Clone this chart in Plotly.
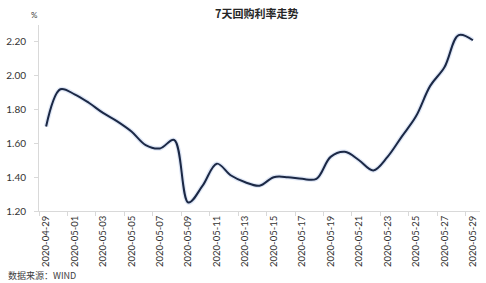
import plotly.graph_objects as go

dates = ["2020-04-29", "2020-04-30", "2020-05-01", "2020-05-02", "2020-05-03", "2020-05-04",
         "2020-05-05", "2020-05-06", "2020-05-07", "2020-05-08", "2020-05-09", "2020-05-10",
         "2020-05-11", "2020-05-12", "2020-05-13", "2020-05-14", "2020-05-15", "2020-05-16",
         "2020-05-17", "2020-05-18", "2020-05-19", "2020-05-20", "2020-05-21", "2020-05-22",
         "2020-05-23", "2020-05-24", "2020-05-25", "2020-05-26", "2020-05-27", "2020-05-28",
         "2020-05-29"]
rates = [1.70, 1.92, 1.89, 1.84, 1.78, 1.73,
         1.67, 1.59, 1.57, 1.62, 1.25, 1.35,
         1.48, 1.41, 1.37, 1.35, 1.40, 1.40,
         1.39, 1.39, 1.52, 1.55, 1.50, 1.44,
         1.52, 1.64, 1.76, 1.94, 2.05, 2.24,
         2.21]
y_ticks = [1.20, 1.40, 1.60, 1.80, 2.00, 2.20]
title_text = "7天回购利率走势"
unit_text = "%"
source_text = "数据来源：WIND"

idx = list(range(len(dates)))
label_idx = idx[::2]
label_txt = dates[::2]

fig = go.Figure()
# soft shadow under the line
fig.add_trace(go.Scatter(x=idx, y=rates, mode="lines",
                         line=dict(color="rgba(150,175,225,0.30)", width=4.5, shape="spline", smoothing=1.0),
                         hoverinfo="skip", showlegend=False))
fig.add_trace(go.Scatter(x=idx, y=rates, mode="lines",
                         line=dict(color="#1B2845", width=2, shape="spline", smoothing=1.0),
                         showlegend=False))

fig.update_layout(
    width=486, height=283,
    margin=dict(l=37, r=6, t=25, b=72),
    paper_bgcolor="white", plot_bgcolor="white",
    font=dict(family="Lato, 'Noto Sans CJK SC', sans-serif", size=10, color="#404040"),
    showlegend=False,
)
fig.update_xaxes(
    range=[-0.5, len(dates) - 0.5],
    tickmode="array", tickvals=label_idx, ticktext=label_txt,
    tickangle=-90, ticks="", showgrid=False, zeroline=False,
    showline=True, linecolor="#D9D9D9", linewidth=1,
    tickfont=dict(size=9.5, color="#333333"),
    ticklabelstandoff=0,
    minor=dict(tickmode="linear", tick0=-0.5, dtick=2, ticks="outside", ticklen=4,
               tickcolor="#D9D9D9", showgrid=False),
)
fig.update_yaxes(
    range=[1.2, 2.3],
    tickmode="array", tickvals=y_ticks, ticktext=[f"{v:.2f}" for v in y_ticks],
    ticks="outside", ticklen=4, tickcolor="#D9D9D9",
    showgrid=False, zeroline=False,
    showline=True, linecolor="#D9D9D9", linewidth=1,
    tickfont=dict(size=10, color="#333333"),
    ticklabelstandoff=6,
)
fig.add_annotation(text="<b>" + title_text + "</b>", x=0.5, y=1.0, xref="paper", yref="paper",
                   xanchor="center", yanchor="middle", yshift=12, xshift=-3, showarrow=False,
                   font=dict(family="'Noto Sans CJK SC', sans-serif", size=11, color="#262626"))
fig.add_annotation(text=unit_text, x=0, y=1.0, xref="paper", yref="paper",
                   xanchor="right", yanchor="middle", yshift=10, xshift=1, showarrow=False,
                   font=dict(size=8, color="#404040"))
fig.add_annotation(text=source_text, x=0, y=0, xref="paper", yref="paper",
                   xanchor="left", yanchor="middle", yshift=-64, xshift=-33, showarrow=False,
                   font=dict(family="'Noto Sans CJK SC', sans-serif", size=9, color="#404040"))

fig.write_html("out.html")
